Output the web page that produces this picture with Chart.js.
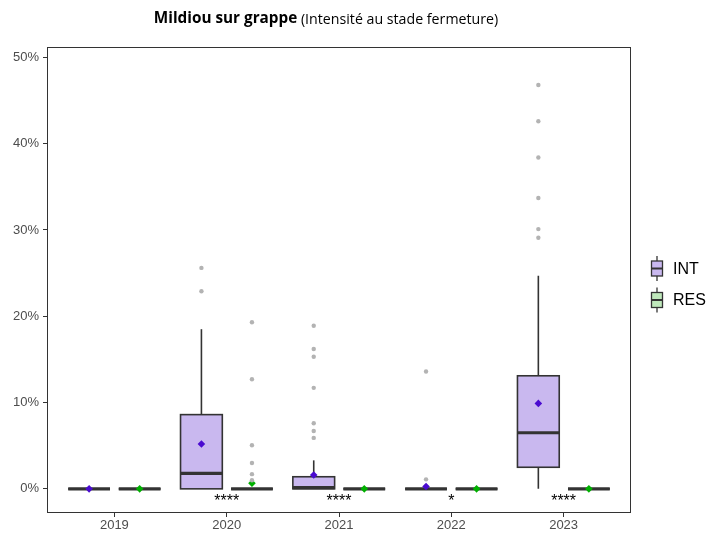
<!DOCTYPE html>
<html>
<head>
<meta charset="utf-8">
<script src="https://cdn.jsdelivr.net/npm/chart.js@4"></script>
<style>
  body { margin: 0; background: #fff; }
  canvas { display: block; }
</style>
</head>
<body>
<canvas id="chartCanvas" width="711" height="538"></canvas>
<script>
// values (percent)
const years = ['2019', '2020', '2021', '2022', '2023'];
const yTicks = [0, 10, 20, 30, 40, 50];

const intQ1 = [0, 0, 0, 0, 2.5];
const intMedian = [0, 1.8, 0.15, 0, 6.5];
const intQ3 = [0, 8.6, 1.4, 0, 13.1];
const intLow = [0, 0, 0, 0, 0];
const intHigh = [0, 18.5, 3.3, 0, 24.7];
const intMean = [0, 5.2, 1.6, 0.27, 9.9];
const intOutliers = [[], [25.6, 22.9], [18.9, 16.2, 15.3, 11.7, 7.6, 6.7, 5.9], [13.6, 1.1], [46.8, 42.6, 38.4, 33.7, 30.1, 29.1]];

const resQ1 = [0, 0, 0, 0, 0];
const resMedian = [0, 0, 0, 0, 0];
const resQ3 = [0, 0, 0, 0, 0];
const resLow = [0, 0, 0, 0, 0];
const resHigh = [0, 0, 0, 0, 0];
const resMean = [0, 0.66, 0, 0, 0];
const resOutliers = [[], [19.3, 12.7, 5.05, 3.0, 1.7, 1.0], [], [], []];

const signif = ['', '****', '****', '*', '****'];

const groups = [
    { name: 'INT', offset: -0.225, fill: '#c9b8ef', mean: '#4a0bd0',
      q1: intQ1, med: intMedian, q3: intQ3, lo: intLow, hi: intHigh, avg: intMean, out: intOutliers },
    { name: 'RES', offset: 0.225, fill: '#bfe8bb', mean: '#00b000',
      q1: resQ1, med: resMedian, q3: resQ3, lo: resLow, hi: resHigh, avg: resMean, out: resOutliers }
];
const boxWidth = 0.372;
const axisFont = { family: '"Liberation Sans", Arial, sans-serif', size: 13 };

const outlierPoints = g => g.out.flatMap((vals, i) => vals.map(v => ({ x: i + g.offset, y: v })));
const meanPoints = g => g.avg.map((v, i) => ({ x: i + g.offset, y: v }));

const boxPlugin = {
    id: 'boxes',
    beforeDatasetsDraw(chart) {
        const { ctx, chartArea: a, scales: { x, y } } = chart;
        ctx.save();
        ctx.beginPath();
        ctx.rect(a.left, a.top, a.right - a.left, a.bottom - a.top);
        ctx.clip();
        groups.forEach(g => {
            years.forEach((yr, i) => {
                const cx = x.getPixelForValue(i + g.offset);
                const half = (x.getPixelForValue(boxWidth) - x.getPixelForValue(0)) / 2;
                const top = y.getPixelForValue(g.q3[i]);
                const bot = y.getPixelForValue(g.q1[i]);
                ctx.strokeStyle = '#333';
                ctx.lineWidth = 1.6;
                // whiskers
                ctx.beginPath();
                ctx.moveTo(cx, y.getPixelForValue(g.hi[i]));
                ctx.lineTo(cx, top);
                ctx.moveTo(cx, bot);
                ctx.lineTo(cx, y.getPixelForValue(g.lo[i]));
                ctx.stroke();
                // box
                ctx.fillStyle = g.fill;
                ctx.fillRect(cx - half, top, half * 2, bot - top);
                ctx.strokeRect(cx - half, top, half * 2, bot - top);
                // median
                ctx.lineWidth = 3.2;
                ctx.beginPath();
                const m = y.getPixelForValue(g.med[i]);
                ctx.moveTo(cx - half, m);
                ctx.lineTo(cx + half, m);
                ctx.stroke();
            });
        });
        ctx.restore();
    },
    afterDraw(chart) {
        const { ctx, chartArea: a, scales: { x, y } } = chart;
        ctx.save();
        // panel border
        ctx.strokeStyle = '#333';
        ctx.lineWidth = 1;
        ctx.strokeRect(a.left + 0.5, a.top + 0.5, a.right - a.left - 1, a.bottom - a.top - 1);

        // significance stars
        ctx.fillStyle = '#000';
        ctx.font = '16px "Liberation Sans", Arial, sans-serif';
        ctx.textAlign = 'center';
        ctx.textBaseline = 'middle';
        signif.forEach((s, i) => {
            if (s) ctx.fillText(s, x.getPixelForValue(i), y.getPixelForValue(-0.9) + 5);
        });

        // title
        ctx.textBaseline = 'middle';
        ctx.textAlign = 'left';
        const bold = 'Mildiou sur grappe';
        const reg = ' (Intensité au stade fermeture)';
        const boldFont = 'bold 15.3px "Open Sans", sans-serif';
        const regFont = '14.2px "Open Sans", sans-serif';
        ctx.font = boldFont;
        const wb = ctx.measureText(bold).width;
        ctx.font = regFont;
        const wr = ctx.measureText(reg).width;
        const tx = 326 - (wb + wr) / 2;
        ctx.font = boldFont;
        ctx.fillText(bold, tx, 19);
        ctx.font = regFont;
        ctx.fillText(reg, tx + wb, 20);

        // legend
        const lx = 657;
        groups.forEach((g, k) => {
            const cy = 268.5 + k * 31.5;
            ctx.strokeStyle = '#333';
            ctx.lineWidth = 1.3;
            ctx.beginPath();
            ctx.moveTo(lx, cy - 12.5);
            ctx.lineTo(lx, cy + 12.5);
            ctx.stroke();
            ctx.fillStyle = g.fill;
            ctx.fillRect(lx - 5.5, cy - 7.5, 11, 15);
            ctx.strokeRect(lx - 5.5, cy - 7.5, 11, 15);
            ctx.lineWidth = 2;
            ctx.beginPath();
            ctx.moveTo(lx - 5.5, cy);
            ctx.lineTo(lx + 5.5, cy);
            ctx.stroke();
            ctx.fillStyle = '#000';
            ctx.font = '16px "Liberation Sans", Arial, sans-serif';
            ctx.textAlign = 'left';
            ctx.fillText(g.name, 673, cy + 1);
        });
        ctx.restore();
    }
};

const datasets = [];
groups.forEach(g => {
    datasets.push({
        label: g.name + ' outliers',
        data: outlierPoints(g),
        pointRadius: 2.2,
        pointBackgroundColor: '#b3b3b3',
        pointBorderWidth: 0
    });
});
groups.forEach(g => {
    datasets.push({
        label: g.name + ' mean',
        data: meanPoints(g),
        pointStyle: 'rectRot',
        pointRadius: 3.8,
        pointBackgroundColor: g.mean,
        pointBorderWidth: 0
    });
});

new Chart(document.getElementById('chartCanvas'), {
    type: 'scatter',
    data: { datasets },
    options: {
        responsive: false,
        animation: false,
        layout: { padding: { top: 47, right: 80, left: 0, bottom: 0 } },
        plugins: { legend: { display: false }, tooltip: { enabled: false } },
        scales: {
            x: {
                type: 'linear',
                min: -0.6,
                max: 4.6,
                afterBuildTicks: s => { s.ticks = years.map((yr, i) => ({ value: i })); },
                afterFit: s => { s.height = 25; },
                ticks: { callback: v => years[v], color: '#4d4d4d', font: axisFont, padding: 1, maxRotation: 0 },
                grid: { drawOnChartArea: false, tickLength: 4, color: '#333' },
                border: { display: false }
            },
            y: {
                min: -2.8,
                max: 51.2,
                afterBuildTicks: s => { s.ticks = yTicks.map(v => ({ value: v })); },
                afterFit: s => { s.width = 47; },
                ticks: { callback: v => v + '%', color: '#4d4d4d', font: axisFont, padding: 4 },
                grid: { drawOnChartArea: false, tickLength: 4, color: '#333' },
                border: { display: false }
            }
        }
    },
    plugins: [boxPlugin]
});
</script>
</body>
</html>
